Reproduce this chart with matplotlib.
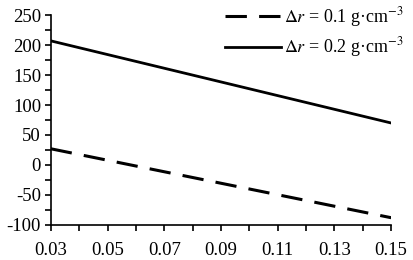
import matplotlib
matplotlib.use("Agg")
import matplotlib.pyplot as plt
from matplotlib.ticker import MultipleLocator, FixedLocator, FuncFormatter

plt.rcParams['font.family'] = ['Liberation Serif', 'DejaVu Serif']
plt.rcParams['mathtext.fontset'] = 'stix'

x = [0.03, 0.15]
y_01 = [27, -88]
y_02 = [207, 70]
labels = [r'$\Delta r$ = 0.1 g·cm$^{-3}$', r'$\Delta r$ = 0.2 g·cm$^{-3}$']
xticks = [0.03, 0.05, 0.07, 0.09, 0.11, 0.13, 0.15]

fig = plt.figure(figsize=(4.13, 2.6), dpi=100)
ax = fig.add_axes([0.123, 0.135, 0.824, 0.807])

ax.plot(x, y_01, color='black', lw=2.2, linestyle=(0, (7, 4)), label=labels[0])
ax.plot(x, y_02, color='black', lw=2, label=labels[1])

ax.set_xlim(0.03, 0.15)
ax.set_ylim(-100, 250)
ax.xaxis.set_major_locator(FixedLocator(xticks))
ax.xaxis.set_minor_locator(MultipleLocator(0.01))
ax.xaxis.set_major_formatter(FuncFormatter(lambda v, p: f'{v:.2f}'))
ax.yaxis.set_major_locator(MultipleLocator(50))
ax.yaxis.set_minor_locator(MultipleLocator(25))
ax.yaxis.set_major_formatter(FuncFormatter(lambda v, p: f'{v:.0f}'))

for s in ['top', 'right']:
    ax.spines[s].set_visible(False)
for s in ['left', 'bottom']:
    ax.spines[s].set_linewidth(1.2)
ax.tick_params(which='both', direction='out', width=1.2, labelsize=13.5, length=4)
ax.tick_params(axis='x', pad=8)
ax.tick_params(axis='y', pad=3)

ax.legend(loc='upper right', bbox_to_anchor=(1.085, 1.125), frameon=False,
          fontsize=13, handlelength=3.1, handletextpad=0.2, labelspacing=0.35)

plt.savefig("out.png", dpi=100)
